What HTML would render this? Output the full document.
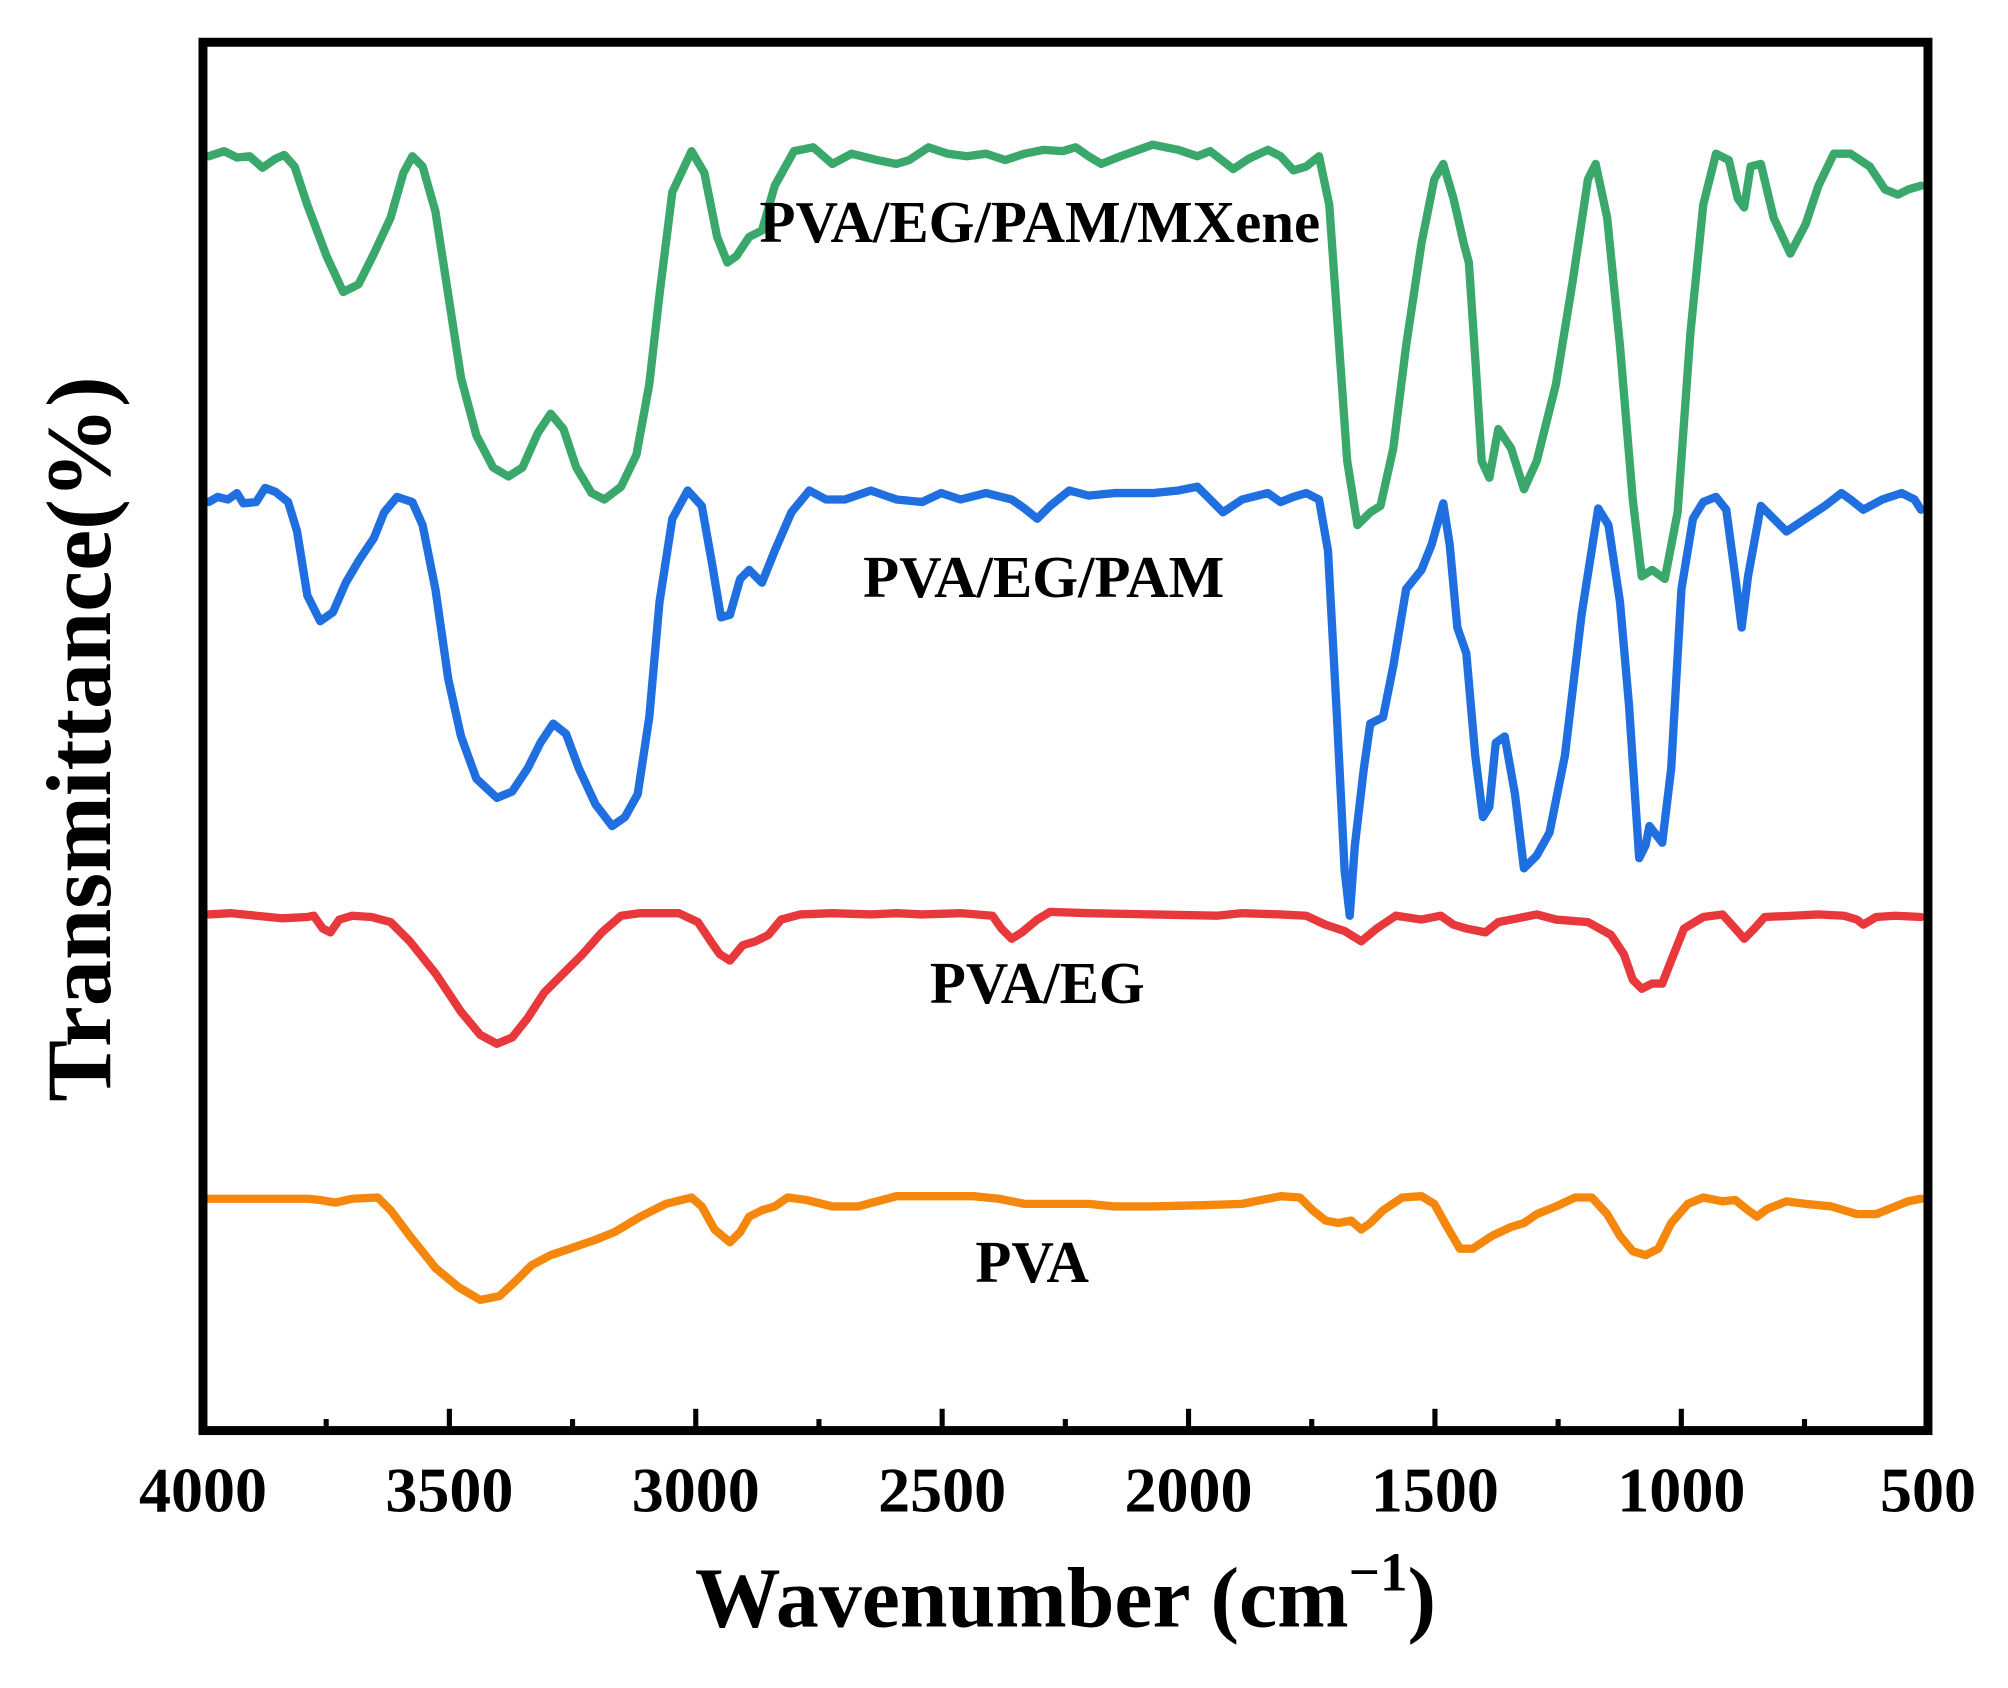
<!DOCTYPE html>
<html><head><meta charset="utf-8"><style>html,body{margin:0;padding:0;background:#fff}svg{display:block}</style></head>
<body>
<svg width="2008" height="1688" viewBox="0 0 1568 1318" preserveAspectRatio="none" xmlns="http://www.w3.org/2000/svg">
<rect width="1568" height="1318" fill="#fff"/>
<g fill="none" stroke-width="6.5" stroke-linejoin="round" stroke-linecap="round">
<polyline stroke="#3aa86a" points="163,122 175,118 185,123 195,122 205,131 215,124 222,121 230,130 240,160 255,200 268,228 280,222 292,198 305,170 315,135 322,122 330,130 340,165 350,230 360,295 372,340 385,365 397,372 408,365 420,338 430,323 440,335 450,365 462,385 472,390 485,380 497,355 507,300 515,230 525,150 540,118 550,135 560,185 568,205 575,200 585,185 595,180 605,145 620,118 635,115 650,128 665,120 685,125 700,128 710,125 725,115 740,120 755,122 770,120 785,125 800,120 815,117 830,118 840,115 850,122 860,128 875,122 900,113 920,117 935,122 945,118 963,132 975,124 990,117 1000,122 1010,133 1020,130 1030,122 1038,160 1045,260 1052,360 1060,410 1070,400 1078,395 1088,350 1098,270 1110,190 1120,140 1127,128 1135,155 1143,190 1147,205 1152,280 1157,360 1163,373 1170,335 1180,350 1190,382 1200,360 1215,300 1228,220 1240,140 1246,128 1255,170 1265,270 1275,390 1282,450 1290,445 1300,452 1310,400 1320,260 1330,160 1340,120 1350,125 1357,155 1362,162 1367,130 1375,128 1385,170 1398,198 1410,175 1420,145 1432,120 1445,120 1460,130 1472,148 1482,152 1490,148 1500,145"/>
<polyline stroke="#1f6fe0" points="163,392 170,388 178,390 185,385 190,393 200,392 207,381 215,384 225,392 232,415 240,465 250,485 260,478 270,455 280,438 292,420 300,400 310,388 322,392 330,410 340,460 350,530 360,575 372,608 388,623 400,618 412,600 422,580 432,565 442,573 452,600 465,628 478,645 488,638 498,620 507,560 515,470 525,405 537,383 548,395 556,440 563,482 570,480 578,452 585,445 595,455 605,430 618,400 632,383 645,390 660,390 680,383 700,390 720,392 735,385 750,390 770,385 790,390 800,397 810,405 820,395 835,383 850,387 870,385 900,385 920,383 935,380 945,390 955,400 970,390 990,385 1000,392 1010,388 1020,385 1030,390 1037,430 1044,560 1050,680 1054,715 1058,660 1065,600 1070,565 1080,560 1088,520 1098,460 1110,445 1118,425 1127,393 1132,425 1138,490 1145,510 1152,590 1158,638 1163,630 1168,580 1175,575 1183,620 1190,678 1200,668 1210,650 1222,590 1235,480 1248,397 1256,410 1265,470 1272,550 1280,670 1285,660 1288,645 1298,658 1305,600 1313,460 1322,405 1330,392 1340,388 1348,398 1355,450 1360,490 1365,450 1375,395 1385,405 1395,415 1410,405 1425,395 1438,385 1445,390 1455,398 1470,390 1485,385 1495,390 1500,398"/>
<polyline stroke="#e8383c" points="163,714 180,713 200,715 220,717 240,716 245,715 252,725 258,728 265,718 275,715 290,716 305,720 320,735 340,760 360,790 375,808 388,815 400,810 412,795 425,775 440,760 455,745 470,728 485,715 500,713 530,713 545,720 555,735 562,745 570,750 580,738 590,735 600,730 610,718 625,714 650,713 680,714 700,713 720,714 750,713 775,715 782,725 790,733 798,728 810,718 820,712 850,713 900,714 950,715 970,713 1000,714 1020,715 1035,722 1050,727 1063,735 1075,725 1090,715 1110,718 1125,715 1135,722 1145,725 1160,728 1170,720 1185,717 1200,714 1215,718 1240,720 1258,730 1268,745 1275,765 1282,772 1290,768 1298,768 1305,750 1315,725 1330,716 1345,714 1355,725 1362,733 1370,725 1378,716 1400,715 1420,714 1440,715 1450,718 1455,722 1465,716 1480,715 1500,716"/>
<polyline stroke="#f5870c" points="163,936 200,936 240,936 250,937 262,939 275,936 295,935 305,945 320,965 340,990 358,1005 375,1015 390,1012 403,1000 415,988 430,980 445,975 465,968 480,962 500,950 520,940 540,935 548,942 558,960 570,970 578,962 585,950 595,945 605,942 615,935 630,937 650,942 670,942 685,938 700,934 730,934 760,934 780,936 800,940 830,940 850,940 870,942 900,942 940,941 970,940 1000,934 1015,935 1025,945 1035,953 1045,955 1055,953 1063,960 1070,955 1080,945 1095,935 1110,934 1120,940 1130,958 1140,975 1150,975 1165,965 1180,958 1190,955 1200,948 1215,942 1230,935 1243,935 1255,948 1265,965 1275,977 1285,980 1295,975 1305,955 1318,940 1330,935 1345,938 1355,937 1365,945 1372,950 1380,944 1395,938 1410,940 1430,942 1450,948 1465,948 1480,942 1490,938 1500,936"/>
</g>
<rect x="158.5" y="33" width="1347" height="1084" fill="none" stroke="#000" stroke-width="7"/>
<g stroke="#000" stroke-width="4">
<line x1="350.9" y1="1117" x2="350.9" y2="1100"/><line x1="543.3" y1="1117" x2="543.3" y2="1100"/><line x1="735.7" y1="1117" x2="735.7" y2="1100"/><line x1="928.1" y1="1117" x2="928.1" y2="1100"/><line x1="1120.5" y1="1117" x2="1120.5" y2="1100"/><line x1="1312.9" y1="1117" x2="1312.9" y2="1100"/>
<line x1="254.7" y1="1117" x2="254.7" y2="1108"/><line x1="447.1" y1="1117" x2="447.1" y2="1108"/><line x1="639.5" y1="1117" x2="639.5" y2="1108"/><line x1="831.9" y1="1117" x2="831.9" y2="1108"/><line x1="1024.3" y1="1117" x2="1024.3" y2="1108"/><line x1="1216.7" y1="1117" x2="1216.7" y2="1108"/><line x1="1409.1" y1="1117" x2="1409.1" y2="1108"/>
</g>
<g font-family="Liberation Serif, serif" font-weight="bold" fill="#000" text-anchor="middle">
<g font-size="50">
<text x="158.5" y="1180">4000</text><text x="350.9" y="1180">3500</text><text x="543.3" y="1180">3000</text><text x="735.7" y="1180">2500</text><text x="928.1" y="1180">2000</text><text x="1120.5" y="1180">1500</text><text x="1312.9" y="1180">1000</text><text x="1505.5" y="1180">500</text>
</g>
<text x="832" y="1270" font-size="67">Wavenumber (cm<tspan font-size="43" dy="-28">−1</tspan><tspan dy="28">)</tspan></text>
<text transform="translate(86,577) rotate(-90)" font-size="72">Transmittance(%)</text>
<g font-size="46">
<text x="812" y="189">PVA/EG/PAM/MXene</text>
<text x="815" y="466">PVA/EG/PAM</text>
<text x="810" y="783">PVA/EG</text>
<text x="806" y="1001">PVA</text>
</g>
</g>
</svg>
</body></html>
